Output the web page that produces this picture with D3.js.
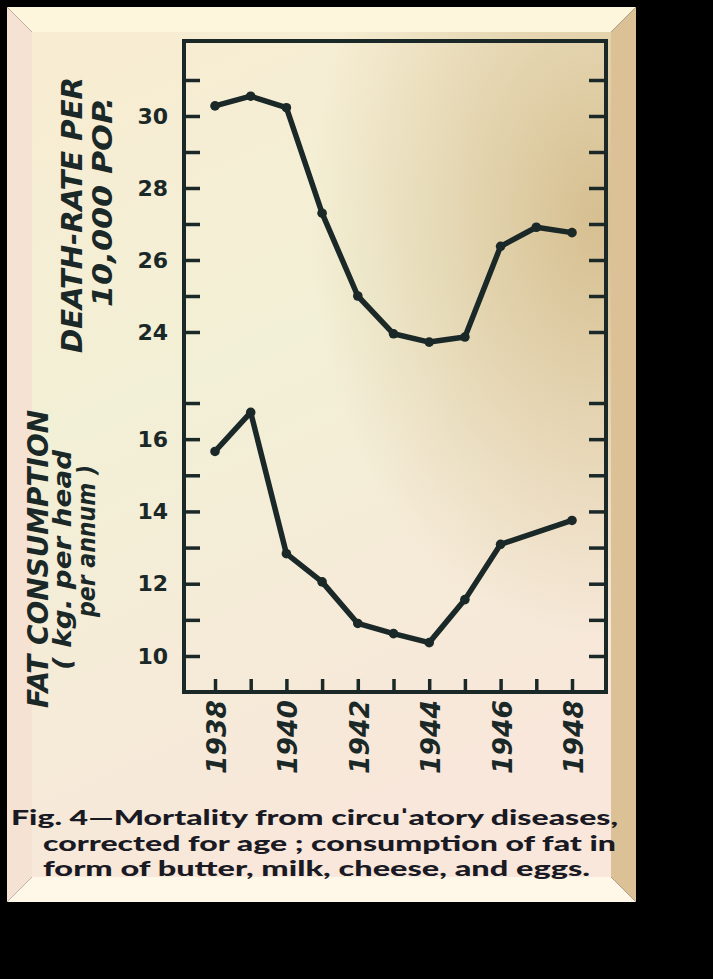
<!DOCTYPE html>
<html>
<head>
<meta charset="utf-8">
<script src="https://cdn.jsdelivr.net/npm/d3@7"></script>
<style>
  html, body { margin: 0; padding: 0; background: #000; }
  svg { display: block; }
</style>
</head>
<body>
<svg id="chart"></svg>
<script>
// values
const years = [1938, 1939, 1940, 1941, 1942, 1943, 1944, 1945, 1946, 1947, 1948];
const deathRate = [30.28, 30.55, 30.23, 27.3, 25.0, 23.95, 23.72, 23.86, 26.38, 26.91, 26.76];
const fatConsumption = [15.66, 16.74, 12.83, 12.05, 10.9, 10.62, 10.37, 11.56, 13.09, null, 13.75];
const deathTicks = [24, 25, 26, 27, 28, 29, 30, 31];
const deathLabels = [24, 26, 28, 30];
const fatTicks = [10, 11, 12, 13, 14, 15, 16, 17];
const fatLabels = [10, 12, 14, 16];
const yearLabels = [1938, 1940, 1942, 1944, 1946, 1948];
const caption = [
  "Fig. 4\u2014Mortality from circu\u02c8atory diseases,",
  "corrected for age ;  consumption of fat in",
  "form of butter, milk, cheese, and eggs."
];

const width = 713, height = 979;
const ink = "#1b2828";
const frame_left = 184, frame_right = 606, frame_top = 41, frame_bottom = 692;

const svg = d3.select("#chart").attr("width", width).attr("height", height);
svg.append("rect").attr("width", width).attr("height", height).attr("fill", "#000");

const defs = svg.append("defs");
const paperGrad = defs.append("linearGradient").attr("id", "paper")
  .attr("x1", 0).attr("y1", 0).attr("x2", 0.3).attr("y2", 1);
paperGrad.append("stop").attr("offset", "0%").attr("stop-color", "#f8ecd2");
paperGrad.append("stop").attr("offset", "45%").attr("stop-color", "#f2f0d6");
paperGrad.append("stop").attr("offset", "100%").attr("stop-color", "#f8e7da");
const tanGrad = defs.append("radialGradient").attr("id", "tan")
  .attr("cx", 0.98).attr("cy", 0.22).attr("r", 0.5);
tanGrad.append("stop").attr("offset", "0%").attr("stop-color", "#d3b988").attr("stop-opacity", 0.9);
tanGrad.append("stop").attr("offset", "100%").attr("stop-color", "#d3b988").attr("stop-opacity", 0);

// paper with bevelled edge
const ox0 = 7, oy0 = 7, ox1 = 636, oy1 = 902, bev = 25;
const bevels = [
  {pts: [[ox0, oy0], [ox1, oy0], [ox1 - bev, oy0 + bev], [ox0 + bev, oy0 + bev]], fill: "#fdf5dc"},
  {pts: [[ox0, oy0], [ox0 + bev, oy0 + bev], [ox0 + bev, oy1 - bev], [ox0, oy1]], fill: "#f6e2d2"},
  {pts: [[ox0, oy1], [ox0 + bev, oy1 - bev], [ox1 - bev, oy1 - bev], [ox1, oy1]], fill: "#fff7e8"},
  {pts: [[ox1, oy0], [ox1, oy1], [ox1 - bev, oy1 - bev], [ox1 - bev, oy0 + bev]], fill: "#dcc196"}
];
svg.append("g").selectAll("polygon").data(bevels).enter().append("polygon")
  .attr("points", d => d.pts.map(p => p.join(",")).join(" "))
  .attr("fill", d => d.fill);
svg.append("rect").attr("x", ox0 + bev).attr("y", oy0 + bev)
  .attr("width", ox1 - ox0 - 2 * bev).attr("height", oy1 - oy0 - 2 * bev).attr("fill", "url(#paper)");
svg.append("rect").attr("x", ox0 + bev).attr("y", oy0 + bev)
  .attr("width", ox1 - ox0 - 2 * bev).attr("height", oy1 - oy0 - 2 * bev).attr("fill", "url(#tan)");

// scales
const x = d3.scaleLinear().domain([1938, 1948]).range([215, 572]);
const yDeath = d3.scaleLinear().domain([24, 31]).range([332, 80]);
const yFat = d3.scaleLinear().domain([10, 17]).range([656, 403]);

const styleAxis = g => {
  g.select(".domain").remove();
  g.selectAll("line").attr("stroke", ink).attr("stroke-width", 3.5);
};

// left ticks (inward)
svg.append("g").attr("transform", `translate(${frame_left},0)`)
  .call(d3.axisRight(yDeath).tickValues(deathTicks).tickSize(16).tickFormat(""))
  .call(styleAxis);
svg.append("g").attr("transform", `translate(${frame_left},0)`)
  .call(d3.axisRight(yFat).tickValues(fatTicks).tickSize(16).tickFormat(""))
  .call(styleAxis);
// right ticks (inward)
svg.append("g").attr("transform", `translate(${frame_right},0)`)
  .call(d3.axisLeft(yDeath).tickValues(deathTicks).tickSize(17).tickFormat(""))
  .call(styleAxis);
svg.append("g").attr("transform", `translate(${frame_right},0)`)
  .call(d3.axisLeft(yFat).tickValues(fatTicks).tickSize(17).tickFormat(""))
  .call(styleAxis);
// bottom ticks (inward)
svg.append("g").attr("transform", `translate(0,${frame_bottom})`)
  .call(d3.axisTop(x).tickValues(years).tickSize(13).tickFormat(""))
  .call(styleAxis);

// tick labels
const labelAxis = (scale, vals) => g => {
  g.call(d3.axisLeft(scale).tickValues(vals).tickSize(0).tickPadding(16).tickFormat(d3.format("d")));
  g.select(".domain").remove();
  g.selectAll("text")
    .style("font-family", "'DejaVu Sans', sans-serif")
    .style("font-size", "22px").style("font-weight", "bold")
    .attr("fill", ink);
};
svg.append("g").attr("transform", `translate(${frame_left},0)`).call(labelAxis(yDeath, deathLabels));
svg.append("g").attr("transform", `translate(${frame_left},0)`).call(labelAxis(yFat, fatLabels));

// year labels, rotated
svg.append("g").selectAll("text").data(yearLabels).enter().append("text")
  .attr("transform", d => `translate(${x(d) + 11},700) rotate(-90)`)
  .attr("text-anchor", "end")
  .style("font-family", "'DejaVu Sans', sans-serif")
  .style("font-size", "27px").style("font-weight", "bold").style("font-style", "italic")
  .attr("fill", ink)
  .attr("textLength", 74).attr("lengthAdjust", "spacingAndGlyphs")
  .text(d => d);

// frame
svg.append("rect").attr("x", frame_left).attr("y", frame_top)
  .attr("width", frame_right - frame_left).attr("height", frame_bottom - frame_top)
  .attr("fill", "none").attr("stroke", ink).attr("stroke-width", 4);

// series
const drawSeries = (vals, yScale) => {
  const pts = years.map((yr, i) => ({yr: yr, v: vals[i]})).filter(d => d.v != null);
  svg.append("path").datum(pts)
    .attr("d", d3.line().x(d => x(d.yr)).y(d => yScale(d.v)))
    .attr("fill", "none").attr("stroke", ink).attr("stroke-width", 5.5)
    .attr("stroke-linejoin", "round").attr("stroke-linecap", "round");
  svg.append("g").selectAll("circle").data(pts).enter().append("circle")
    .attr("cx", d => x(d.yr)).attr("cy", d => yScale(d.v)).attr("r", 4.8)
    .attr("fill", ink);
};
drawSeries(deathRate, yDeath);
drawSeries(fatConsumption, yFat);

// axis titles
const title = (txt, bx, cy, len, size) => {
  svg.append("text")
    .attr("transform", `translate(${bx},${cy}) rotate(-90)`)
    .attr("text-anchor", "middle")
    .style("font-family", "'DejaVu Sans', sans-serif")
    .style("font-size", size + "px").style("font-weight", "bold").style("font-style", "italic")
    .attr("fill", ink)
    .attr("textLength", len).attr("lengthAdjust", "spacingAndGlyphs")
    .text(txt);
};
title("DEATH-RATE PER", 82, 215, 276, 29);
title("10,000 POP.", 112, 202, 210, 26);
title("FAT CONSUMPTION", 48, 559, 298, 28);
title("( kg. per head", 71, 560, 220, 25);
title("per annum )", 95, 541, 152, 25);

// caption
const capLines = [
  {x: 11, y: 825, len: 607},
  {x: 43, y: 851, len: 573},
  {x: 43, y: 876, len: 547}
];
svg.append("g").selectAll("text").data(caption).enter().append("text")
  .attr("x", (d, i) => capLines[i].x).attr("y", (d, i) => capLines[i].y)
  .attr("textLength", (d, i) => capLines[i].len).attr("lengthAdjust", "spacingAndGlyphs")
  .style("font-family", "Lato, sans-serif")
  .style("font-size", "21px").style("font-weight", "900")
  .attr("fill", "#1a1a24")
  .text(d => d);
</script>
</body>
</html>
